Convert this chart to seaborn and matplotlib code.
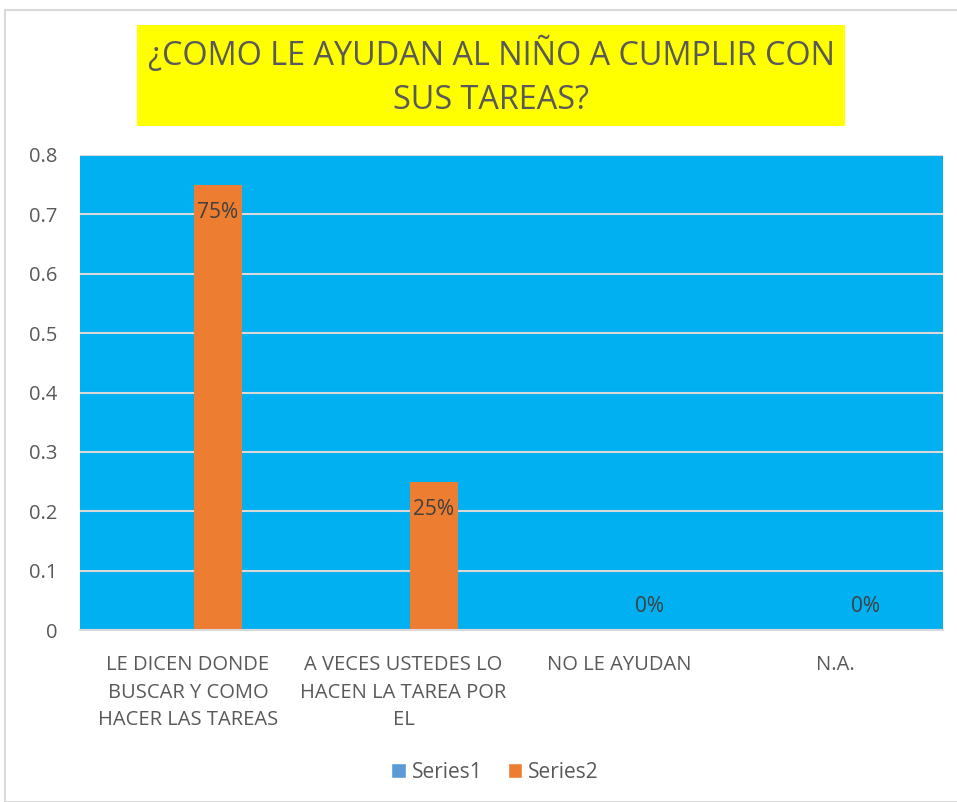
import matplotlib
matplotlib.use("Agg")
import matplotlib.pyplot as plt
import seaborn as sns
import pandas as pd
from matplotlib.patches import Rectangle, Patch

categories = ["LE DICEN DONDE\nBUSCAR Y COMO\nHACER LAS TAREAS",
              "A VECES USTEDES LO\nHACEN LA TAREA POR\nEL",
              "NO LE AYUDAN",
              "N.A."]
series1 = [0, 0, 0, 0]
series2 = [0.75, 0.25, 0, 0]
labels2 = ["75%", "25%", "0%", "0%"]
yticks = [0, 0.1, 0.2, 0.3, 0.4, 0.5, 0.6, 0.7, 0.8]
ytick_labels = ["0", "0.1", "0.2", "0.3", "0.4", "0.5", "0.6", "0.7", "0.8"]
title = "¿COMO LE AYUDAN AL NIÑO A CUMPLIR CON\nSUS TAREAS?"

df = pd.DataFrame({
    "cat": categories * 2,
    "val": series1 + series2,
    "series": ["Series1"] * 4 + ["Series2"] * 4,
})

sns.set_theme(style="white")
plt.rcParams['font.family'] = ['Open Sans', 'DejaVu Sans']
gray = "#595959"

fig = plt.figure(figsize=(9.57, 8.02), dpi=100)
fig.patch.set_facecolor("white")
fig.patches.append(Rectangle((5/957, 0), 1, 1 - 10/802, transform=fig.transFigure,
                             fill=False, edgecolor="#D9D9D9", linewidth=1.5))

ax = fig.add_axes([80/957, 1 - 630/802, (943 - 80)/957, (630 - 155)/802])
ax.set_facecolor("#00B0F0")

sns.barplot(data=df, x="cat", y="val", hue="series", ax=ax,
            palette={"Series1": "#5B9BD5", "Series2": "#ED7D31"},
            width=120/216, gap=0.2, dodge=True, legend=False, saturation=1,
            linewidth=0, err_kws={"linewidth": 0})

ax.set_ylim(0, 0.8)
ax.set_xlim(-0.5, 3.5)
ax.set_yticks(yticks)
ax.set_yticklabels(ytick_labels, color=gray, fontsize=14.5)
ax.yaxis.grid(True, color="#D9D9D9", linewidth=1.5)
ax.set_axisbelow(True)
for s in ["top", "right", "left"]:
    ax.spines[s].set_visible(False)
ax.spines["bottom"].set_color("#D9D9D9")
ax.spines["bottom"].set_linewidth(1.5)
ax.tick_params(axis="y", length=0, pad=16)
ax.tick_params(axis="x", length=0, pad=18)
ax.set_xticklabels(categories, color=gray, fontsize=14.5, linespacing=1.5)
ax.set_xlabel("")
ax.set_ylabel("")

# data labels for Series2
off = 30/216
for i, (v, lab) in enumerate(zip(series2, labels2)):
    if v > 0:
        ax.text(i + off, v - 0.047, lab, ha="center", va="center", color="#404040", fontsize=15)
    else:
        ax.text(i + off, 0.04, lab, ha="center", va="center", color="#404040", fontsize=15)

# title box
fig.patches.append(Rectangle((137/957, 1 - 126/802), (845 - 137)/957, (126 - 25)/802,
                             transform=fig.transFigure, facecolor="#FFFF00", edgecolor="none"))
fig.text(491/957, 1 - 77/802, title, ha="center", va="center", color=gray,
         fontsize=23.3, linespacing=1.45, family=['Open Sans', 'DejaVu Sans'])

handles = [Patch(facecolor="#5B9BD5", label="Series1"), Patch(facecolor="#ED7D31", label="Series2")]
fig.legend(handles=handles, loc="center", bbox_to_anchor=(495/957, 1 - 772/802), ncol=2,
           frameon=False, fontsize=15, labelcolor=gray, handlelength=0.7, handleheight=0.7,
           handletextpad=0.3, columnspacing=1.2)

fig.savefig("out.png", dpi=100)
